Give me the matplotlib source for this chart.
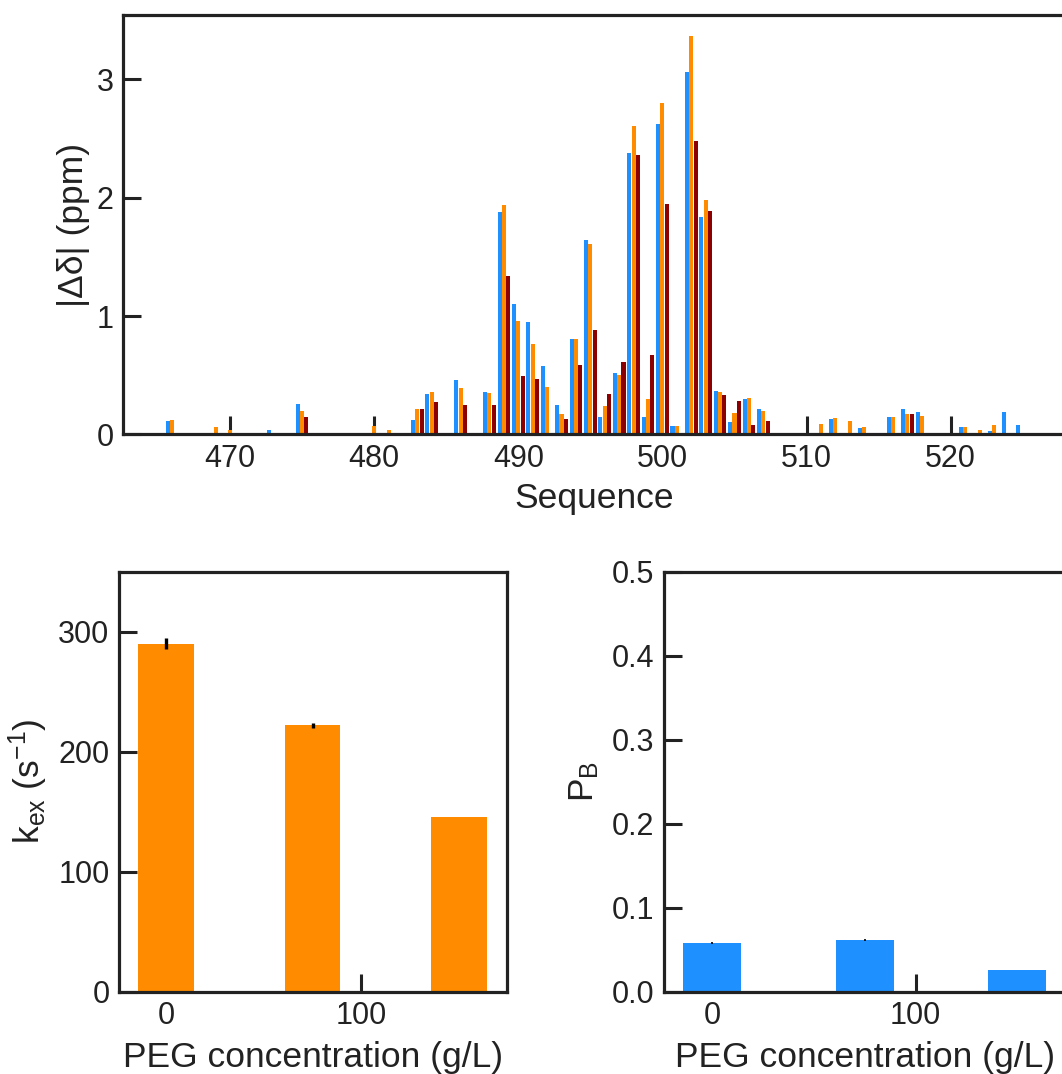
import matplotlib
matplotlib.use("Agg")
import matplotlib.pyplot as plt
import numpy as np

plt.rcParams['font.family'] = ['Liberation Sans', 'DejaVu Sans']
plt.rcParams['mathtext.fontset'] = 'custom'
plt.rcParams['mathtext.rm'] = 'Liberation Sans'
plt.rcParams['mathtext.it'] = 'Liberation Sans'
plt.rcParams['font.size'] = 22
plt.rcParams['text.color'] = '#222222'
plt.rcParams['axes.labelcolor'] = '#222222'
plt.rcParams['xtick.color'] = '#222222'
plt.rcParams['ytick.color'] = '#222222'

# chemical shift perturbations per residue (three series)
residues = [466, 469, 470, 473, 475, 480, 481, 483, 484, 486, 488, 489, 490,
            491, 492, 493, 494, 495, 496, 497, 498, 499, 500, 501, 502, 503,
            504, 505, 506, 507, 511, 512, 513, 514, 516, 517, 518, 521, 522,
            523, 524, 525]
shift_blue = [0.11, 0, 0, 0.04, 0.26, 0, 0, 0.12, 0.34, 0.46, 0.36, 1.88, 1.10,
              0.95, 0.58, 0.25, 0.81, 1.64, 0.15, 0.52, 2.38, 0.15, 2.62, 0.07,
              3.06, 1.84, 0.37, 0.10, 0.30, 0.21, 0, 0.13, 0, 0.057, 0.15, 0.21,
              0.19, 0.06, 0, 0.03, 0.19, 0.075]
shift_orange = [0.12, 0.06, 0.04, 0, 0.20, 0.07, 0.04, 0.21, 0.36, 0.39, 0.35,
                1.94, 0.96, 0.76, 0.40, 0.17, 0.81, 1.61, 0.24, 0.50, 2.61, 0.30,
                2.80, 0.07, 3.37, 1.98, 0.36, 0.18, 0.305, 0.20, 0.09, 0.14, 0.11,
                0.065, 0.145, 0.17, 0.155, 0.065, 0.04, 0.08, 0, 0]
shift_red = [0, 0, 0, 0, 0.15, 0, 0, 0.21, 0.27, 0.25, 0.25, 1.34, 0.49, 0.47,
             0, 0.13, 0.59, 0.88, 0.345, 0.615, 2.36, 0.67, 1.95, 0, 2.48, 1.89,
             0.33, 0.285, 0.08, 0.11, 0, 0, 0, 0, 0, 0.17, 0, 0, 0, 0, 0, 0]

# PEG series
peg_conc = [0, 75, 150]
kex = [290, 222, 146]
kex_err = [4.5, 2, 0]
pb = [0.058, 0.0615, 0.0255]
pb_err = [0.001, 0.001, 0]

blue = '#1E90FF'
orange = '#FF8C00'
red = '#8B0000'
dark = '#222222'
lab = 25.5

fig = plt.figure(figsize=(10.62, 10.74), dpi=100)


def style(ax):
    ax.set_axisbelow(True)
    for s in ax.spines.values():
        s.set_linewidth(2.3)
        s.set_color(dark)
    ax.tick_params(direction='in', length=13, width=2.2, labelsize=22, pad=7)


# top: chemical shift differences
ax1 = fig.add_axes([0.1161, 0.5956, 0.8877, 0.3904])
style(ax1)
res = np.array(residues)
w = 0.28
ax1.bar(res - 0.3, shift_blue, width=w, color=blue)
ax1.bar(res, shift_orange, width=w, color=orange)
ax1.bar(res + 0.3, shift_red, width=w, color=red)
ax1.set_xlim(462.6, 528)
ax1.set_ylim(0, 3.545)
ax1.set_xticks([470, 480, 490, 500, 510, 520])
ax1.set_yticks([0, 1, 2, 3])
ax1.set_xlabel('Sequence', fontsize=lab, labelpad=6)
ax1.set_ylabel('|Δδ| (ppm)', fontsize=lab, labelpad=5)

# bottom left: kex
ax2 = fig.add_axes([0.1123, 0.0766, 0.3648, 0.3911])
style(ax2)
ax2.bar(peg_conc, kex, width=28.5, color=orange)
ax2.errorbar(peg_conc[:2], kex[:2], yerr=kex_err[:2], fmt='none',
             ecolor='black', elinewidth=2.4, capsize=0)
ax2.set_xlim(-23.8, 174.2)
ax2.set_ylim(0, 350)
ax2.set_xticks([0, 100])
ax2.set_yticks([0, 100, 200, 300])
ax2.set_xlabel('PEG concentration (g/L)', fontsize=lab, labelpad=7)
ax2.set_ylabel(r'k$_\mathregular{ex}$ (s$^\mathregular{-1}$)', fontsize=lab, labelpad=6)

# bottom right: pB
ax3 = fig.add_axes([0.6252, 0.0766, 0.379, 0.3911])
style(ax3)
ax3.bar(peg_conc, pb, width=28.5, color=blue)
ax3.errorbar(peg_conc[:2], pb[:2], yerr=pb_err[:2], fmt='none',
             ecolor='black', elinewidth=1.2, capsize=0)
ax3.set_xlim(-23.8, 174.2)
ax3.set_ylim(0, 0.5)
ax3.set_xticks([0, 100])
ax3.set_yticks([0, 0.1, 0.2, 0.3, 0.4, 0.5])
ax3.set_yticklabels(['0.0', '0.1', '0.2', '0.3', '0.4', '0.5'])
ax3.set_xlabel('PEG concentration (g/L)', fontsize=lab, labelpad=7)
ax3.set_ylabel(r'P$_\mathregular{B}$', fontsize=lab, labelpad=8)

fig.savefig('out.png', dpi=100)
